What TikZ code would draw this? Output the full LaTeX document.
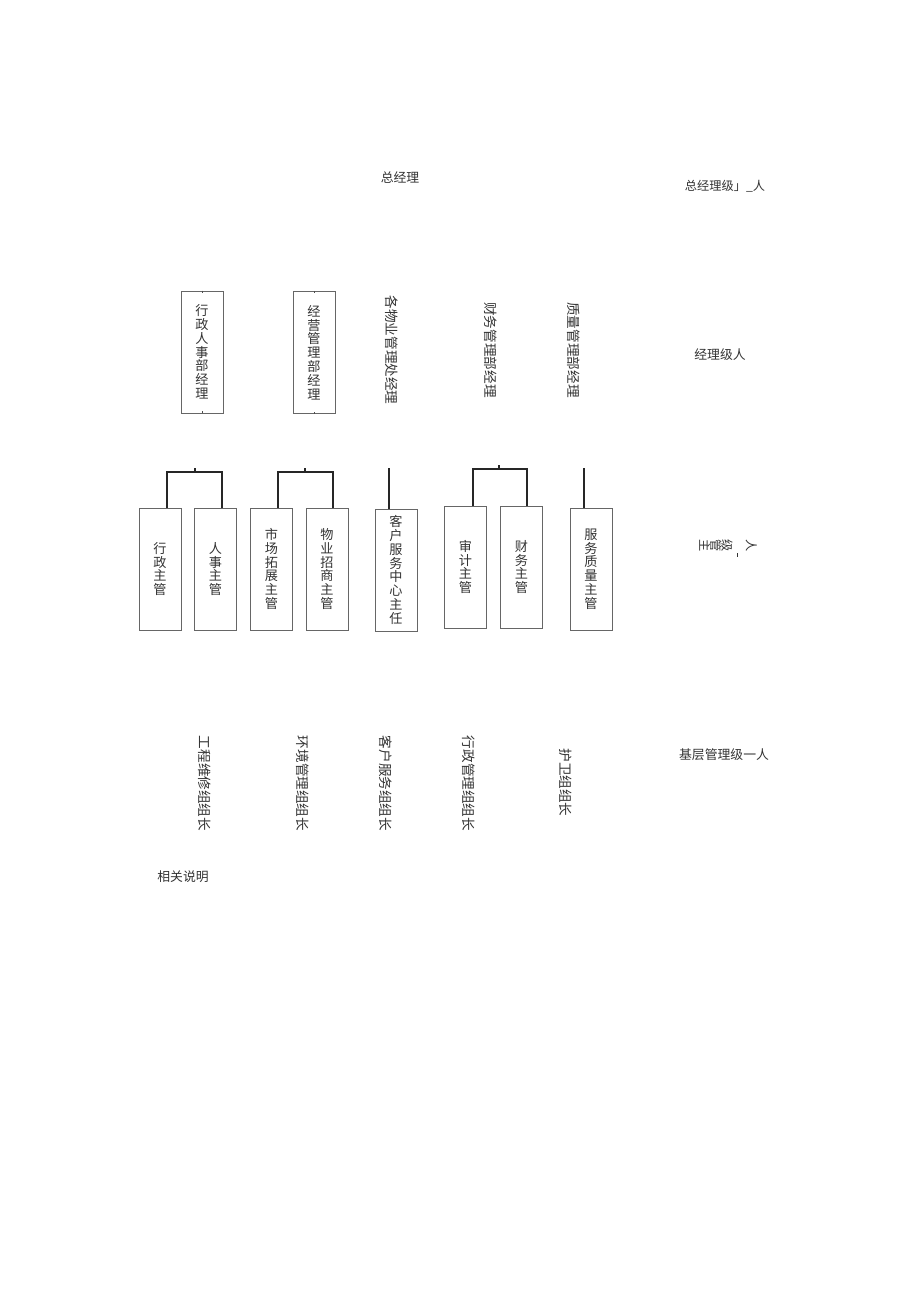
\documentclass[tikz,border=0pt]{standalone}
\usepackage{fontspec}
\setmainfont{Noto Sans CJK SC}
\usetikzlibrary{calc}
\begin{document}
\begin{tikzpicture}[x=0.6467pt,y=-0.6467pt,
  box/.style={draw=black!60, line width=0.6pt, minimum width=27.2pt, minimum height=78.9pt,
    inner sep=0pt, align=center, font=\fontsize{8.5}{8.9}\selectfont, text=black!80},
  vtext/.style={rotate=-90, inner sep=0pt, font=\fontsize{8.8}{10}\selectfont, text=black!80},
  lbl/.style={inner sep=0pt, font=\fontsize{8.3}{10}\selectfont, text=black!80},
  conn/.style={draw=black!85, line width=1.1pt},
  tick/.style={draw=black!70, line width=0.6pt}]
\useasboundingbox[fill=white] (0,0) rectangle (920,1301);

% top level
\node[lbl] (gm) at (400,178) {总经理};

% manager level
\node[box] (mA) at (202,352) {行\\政\\人\\事\\部\\经\\理};
\node[box] (mB) at (314,352.5) {经\\营\\管\\理\\部\\经\\理};
\node[vtext] (mC) at (391.5,350) {各物业管理处经理};
\node[vtext] (mD) at (491,350) {财务管理部经理};
\node[vtext] (mE) at (574,350) {质量管理部经理};
\draw[tick] (mA.north) -- ++(0,2);
\draw[tick] (mA.south) -- ++(0,-2);
\draw[tick] (mB.north) -- ++(0,2);
\draw[tick] (mB.south) -- ++(0,-2);

% supervisor level
\node[box] (s1) at (160,569) {行\\政\\主\\管};
\node[box] (s2) at (215.5,569) {人\\事\\主\\管};
\node[box] (s3) at (271.5,569) {市\\场\\拓\\展\\主\\管};
\node[box] (s4) at (327,569) {物\\业\\招\\商\\主\\管};
\node[box] (s5) at (396,570) {客\\户\\服\\务\\中\\心\\主\\任};
\node[box] (s6) at (465.5,567) {审\\计\\主\\管};
\node[box] (s7) at (521.5,567) {财\\务\\主\\管};
\node[box] (s8) at (591,569) {服\\务\\质\\量\\主\\管};

% connectors
\coordinate (t1) at (195,468);
\coordinate (j1) at (195,472);
\draw[conn] (t1) -- (j1);
\draw[conn] ($(s1.north)+(7,0)$) |- (j1) -| ($(s2.north)+(6.5,0)$);

\coordinate (t2) at (305,468);
\coordinate (j2) at (305,472);
\draw[conn] (t2) -- (j2);
\draw[conn] ($(s3.north)+(6.5,0)$) |- (j2) -| ($(s4.north)+(6,0)$);

\coordinate (t5) at (389,468);
\draw[conn] (t5) -- (t5 |- s5.north);

\coordinate (t6) at (499,465);
\coordinate (j6) at (499,469);
\draw[conn] (t6) -- (j6);
\draw[conn] ($(s6.north)+(7.5,0)$) |- (j6) -| ($(s7.north)+(5.5,0)$);

\coordinate (t8) at (584,468);
\draw[conn] (t8) -- (t8 |- s8.north);

% base level
\node[vtext] (b1) at (205,783.5) {工程维修组组长};
\node[vtext] (b2) at (303,783.5) {环境管理组组长};
\node[vtext] (b3) at (386,783.5) {客户服务组组长};
\node[vtext] (b4) at (469,783.5) {行政管理组组长};
\node[vtext] (b5) at (566,782.5) {护卫组组长};

\node[lbl] (note) at (183,877) {相关说明};

% right side labels
\node[lbl, font=\fontsize{7.9}{10}\selectfont] (L1) at (725,186) {总经理级」\_人};
\node[lbl] (L2) at (720,355) {经理级人};
\node[lbl, font=\fontsize{7.9}{10}\selectfont] (L3) at (728,548)
  {\rotatebox[origin=c]{-90}{主}\rotatebox[origin=c]{-90}{管}\rotatebox[origin=c]{-90}{级}\hspace{3pt}\rule[-4pt]{0.4pt}{2.5pt}\hspace{5pt}\rotatebox[origin=c]{-90}{人}};
\node[lbl] (L4) at (724,755) {基层管理级一人};
\end{tikzpicture}
\end{document}
